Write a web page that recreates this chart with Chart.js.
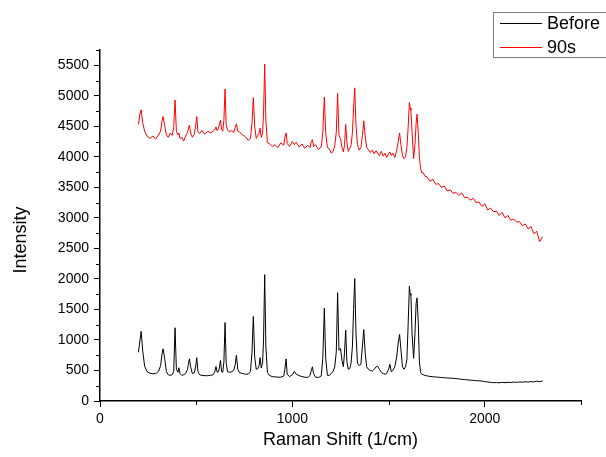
<!DOCTYPE html>
<html>
<head>
<meta charset="utf-8">
<title>Raman spectra</title>
<script src="https://cdn.jsdelivr.net/npm/chart.js@4.4.1/dist/chart.umd.min.js"></script>
<style>
  html, body { margin: 0; padding: 0; background: #fff; }
  canvas { display: block; }
</style>
</head>
<body>
<canvas id="raman" width="606" height="457"></canvas>
<script>
// Raman shift positions (1/cm), shared by both spectra
var shiftValues = [
  200, 207, 214, 222, 232, 245, 260, 275, 290, 305,
  315, 322, 328, 336, 345, 355, 365, 375, 383, 390,
  397, 405, 410, 416, 425, 435, 445, 455, 460, 465,
  471, 480, 490, 497, 503, 509, 518, 530, 545, 560,
  575, 588, 596, 603, 609, 616, 621, 626, 632, 638,
  644, 650, 656, 663, 672, 685, 695, 703, 709, 716,
  725, 740, 755, 770, 782, 790, 797, 804, 812, 820,
  827, 832, 838, 845, 850, 856, 862, 870, 880, 895,
  910, 925, 940, 955, 961, 967, 973, 985, 1000, 1010,
  1020, 1035, 1050, 1065, 1080, 1092, 1098, 1104, 1110, 1120,
  1135, 1150, 1158, 1166, 1173, 1182, 1192, 1202, 1212, 1220,
  1228, 1235, 1242, 1250, 1258, 1265, 1271, 1277, 1283, 1290,
  1298, 1305, 1312, 1318, 1324, 1330, 1338, 1347, 1356, 1364,
  1371, 1378, 1386, 1395, 1405, 1415, 1425, 1435, 1443, 1452,
  1462, 1472, 1482, 1490, 1500, 1507, 1514, 1522, 1532, 1542,
  1550, 1557, 1564, 1572, 1580, 1588, 1595, 1601, 1608, 1612,
  1616, 1622, 1630, 1637, 1643, 1648, 1654, 1660, 1666, 1672,
  1680, 1690, 1700, 1715, 1730, 1745, 1760, 1775, 1790, 1805,
  1820, 1835, 1850, 1865, 1880, 1895, 1910, 1925, 1940, 1955,
  1970, 1985, 2000, 2015, 2030, 2045, 2060, 2075, 2090, 2105,
  2120, 2135, 2150, 2165, 2180, 2195, 2210, 2225, 2240, 2255,
  2270, 2285, 2300
];

// "Before" spectrum (black)
var beforeValues = [
  800, 980, 1140, 820, 570, 480, 455, 445, 450, 490,
  580, 760, 855, 700, 480, 430, 420, 430, 480, 1200,
  520, 470, 545, 450, 420, 430, 450, 520, 620, 690,
  560, 450, 460, 560, 710, 480, 430, 420, 415, 415,
  420, 430, 470, 565, 470, 480, 560, 665, 480, 470,
  640, 1285, 620, 480, 470, 480, 500, 600, 750, 520,
  465, 450, 440, 440, 480, 800, 1385, 720, 520, 530,
  580, 710, 540, 620, 1000, 2070, 900, 470, 420, 400,
  395, 390, 390, 410, 520, 690, 440, 400, 430, 485,
  440, 415, 400, 390, 385, 420, 500, 560, 450, 390,
  385, 410, 700, 1520, 700, 420, 420, 450, 490, 560,
  800, 1775, 830, 860, 660, 560, 800, 1160, 650, 520,
  530, 620, 900, 1500, 2005, 1150, 620, 580, 600, 900,
  1170, 800, 560, 520, 500, 490, 520, 560, 570, 520,
  470, 450, 440, 450, 520, 600, 480, 500, 560, 720,
  950, 1090, 850, 560, 520, 560, 680, 1200, 1880, 1760,
  1730, 1100, 700, 1100, 1600, 1690, 1300, 650, 470, 440,
  430, 418, 412, 402, 398, 392, 390, 384, 382, 376,
  376, 372, 366, 362, 355, 352, 346, 341, 338, 333,
  330, 326, 318, 312, 305, 300, 302, 298, 305, 300,
  306, 302, 310, 305, 312, 308, 316, 310, 318, 312,
  325, 315, 330
];

// "90s" spectrum (red)
var after90Values = [
  4530, 4700, 4770, 4560, 4420, 4340, 4300, 4340, 4290, 4360,
  4420, 4580, 4660, 4510, 4360, 4320, 4390, 4350, 4480, 4930,
  4420, 4360, 4390, 4300, 4320, 4260, 4340, 4400, 4470, 4520,
  4390, 4320, 4370, 4500, 4660, 4410, 4380, 4430, 4370, 4420,
  4390, 4420, 4440, 4490, 4430, 4470, 4540, 4600, 4450, 4420,
  4600, 5110, 4520, 4440, 4410, 4430, 4400, 4480, 4540, 4420,
  4410, 4360, 4330, 4270, 4300, 4550, 4970, 4500, 4300, 4350,
  4390, 4470, 4320, 4380, 4700, 5520, 4600, 4230, 4220, 4170,
  4200, 4150, 4230, 4190, 4320, 4390, 4220, 4170, 4250, 4200,
  4240, 4160, 4210, 4140, 4190, 4150, 4250, 4280, 4170, 4200,
  4120, 4160, 4400, 4980, 4400, 4150, 4130, 4060, 4090, 4180,
  4400, 5040, 4350, 4300, 4150, 4080, 4200, 4530, 4250, 4090,
  4140, 4190, 4400, 4800, 5130, 4550, 4200, 4110, 4150, 4350,
  4590, 4350, 4150, 4120, 4070, 4110, 4050, 4100, 4060, 4020,
  4090, 4010, 4060, 3990, 4050, 4080, 4020, 4060, 3990, 4100,
  4250, 4390, 4200, 4020, 3970, 4000, 4150, 4450, 4890, 4800,
  4760, 4400, 3970, 4200, 4550, 4700, 4400, 4000, 3820, 3740,
  3740, 3680, 3670, 3600, 3630, 3550, 3560, 3500, 3520, 3440,
  3460, 3400, 3420, 3370, 3410, 3330, 3340, 3290, 3320, 3250,
  3260, 3190, 3230, 3130, 3160, 3100, 3110, 3040, 3090, 3000,
  3040, 2960, 2980, 2930, 2940, 2870, 2900, 2820, 2860, 2740,
  2780, 2610, 2690
];

var seriesNames = ['Before', '90s'];
var seriesColors = ['#000000', '#ff0000'];

var xTickValues = [0, 1000, 2000];
var xMinorTicks = [500, 1500, 2500];
var yTickValues = [0, 500, 1000, 1500, 2000, 2500, 3000, 3500, 4000, 4500, 5000, 5500];
var yMinorTicks = [250, 750, 1250, 1750, 2250, 2750, 3250, 3750, 4250, 4750, 5250, 5750];

var FONT = '"Liberation Sans", Arial, sans-serif';

function toPoints(values) {
  return values.map(function (v, i) {
    return { x: shiftValues[i], y: v };
  });
}

function plainNumber(value) {
  return String(value);
}

// short outward ticks between the labelled ones
var minorTickPlugin = {
  id: 'minorTicks',
  afterDraw: function (chart) {
    var ctx = chart.ctx;
    var xs = chart.scales.x;
    var ys = chart.scales.y;
    ctx.save();
    ctx.strokeStyle = '#000';
    ctx.lineWidth = 1;
    ctx.beginPath();
    yMinorTicks.forEach(function (v) {
      var py = Math.round(ys.getPixelForValue(v)) + 0.5;
      ctx.moveTo(chart.chartArea.left - 4, py);
      ctx.lineTo(chart.chartArea.left, py);
    });
    xMinorTicks.forEach(function (v) {
      var px = Math.round(xs.getPixelForValue(v)) + 0.5;
      ctx.moveTo(px, chart.chartArea.bottom);
      ctx.lineTo(px, chart.chartArea.bottom + 4);
    });
    ctx.stroke();
    ctx.restore();
  }
};

// boxed legend in the top-right corner, plus the rotated y title
var annotationPlugin = {
  id: 'boxLegend',
  afterDraw: function (chart) {
    var ctx = chart.ctx;
    ctx.save();
    ctx.strokeStyle = '#7f7f7f';
    ctx.lineWidth = 1;
    ctx.strokeRect(493.5, 12.5, 130, 45);
    ctx.font = '18px ' + FONT;
    ctx.textBaseline = 'middle';
    ctx.fillStyle = '#000';
    chart.data.datasets.forEach(function (ds, i) {
      var ly = 23.5 + i * 24;
      ctx.strokeStyle = ds.borderColor;
      ctx.beginPath();
      ctx.moveTo(500, ly);
      ctx.lineTo(542, ly);
      ctx.stroke();
      ctx.fillText(ds.label, 547, ly + 1);
    });

    ctx.translate(21, 240);
    ctx.rotate(-Math.PI / 2);
    ctx.textAlign = 'center';
    ctx.font = '18px ' + FONT;
    ctx.fillText('Intensity', 0, 0);
    ctx.restore();
  }
};

new Chart(document.getElementById('raman'), {
  type: 'line',
  data: {
    datasets: [
      {
        label: seriesNames[0],
        data: toPoints(beforeValues),
        borderColor: seriesColors[0],
        borderWidth: 1,
        pointRadius: 0,
        tension: 0,
        fill: false
      },
      {
        label: seriesNames[1],
        data: toPoints(after90Values),
        borderColor: seriesColors[1],
        borderWidth: 1,
        pointRadius: 0,
        tension: 0,
        fill: false
      }
    ]
  },
  options: {
    responsive: false,
    animation: false,
    layout: { padding: { top: 50, right: 25, left: 0, bottom: 0 } },
    plugins: {
      legend: { display: false },
      tooltip: { enabled: false }
    },
    scales: {
      x: {
        type: 'linear',
        min: 0,
        max: 2500,
        afterFit: function (scale) { scale.height = 56; },
        afterBuildTicks: function (scale) {
          scale.ticks = xTickValues.map(function (v) { return { value: v }; });
        },
        border: { display: true, color: '#000', width: 1.5 },
        grid: { drawOnChartArea: false, drawTicks: true, tickLength: 6, tickColor: '#000' },
        ticks: {
          color: '#000',
          padding: 4,
          maxRotation: 0,
          callback: plainNumber,
          font: { family: FONT, size: 14 }
        },
        title: {
          display: true,
          text: 'Raman Shift (1/cm)',
          color: '#000',
          font: { family: FONT, size: 18 },
          padding: { top: 0, bottom: 6 }
        }
      },
      y: {
        min: 0,
        max: 5750,
        afterFit: function (scale) { scale.width = 100; },
        afterBuildTicks: function (scale) {
          scale.ticks = yTickValues.map(function (v) { return { value: v }; });
        },
        border: { display: true, color: '#000', width: 1.5 },
        grid: { drawOnChartArea: false, drawTicks: true, tickLength: 6, tickColor: '#000' },
        ticks: {
          color: '#000',
          padding: 5,
          callback: plainNumber,
          font: { family: FONT, size: 14 }
        }
      }
    }
  },
  plugins: [minorTickPlugin, annotationPlugin]
});
</script>
</body>
</html>
